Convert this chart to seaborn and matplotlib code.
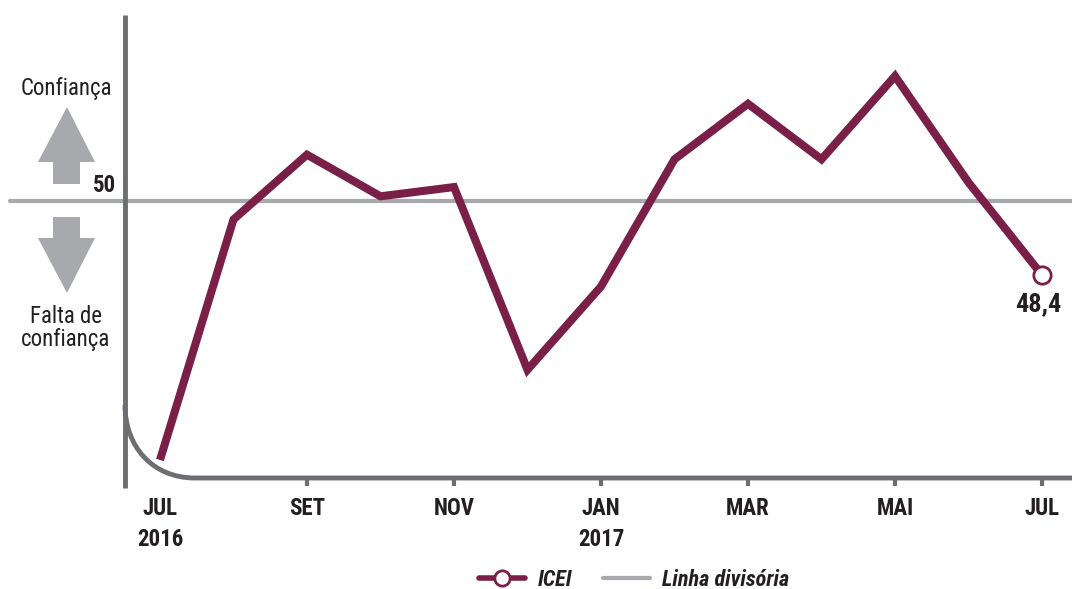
import pandas as pd
import matplotlib.pyplot as plt
import seaborn as sns
from matplotlib import font_manager as fm
from matplotlib.path import Path
from matplotlib.patches import PathPatch, Polygon
from matplotlib.lines import Line2D

# === Dados (ICEI mensal, jul/2016 a jul/2017)
meses = ['JUL', 'AGO', 'SET', 'OUT', 'NOV', 'DEZ', 'JAN', 'FEV', 'MAR', 'ABR', 'MAI', 'JUN', 'JUL']
anos = ['2016', '', '', '', '', '', '2017', '', '', '', '', '', '']
icei = [44.4, 49.6, 51.0, 50.1, 50.3, 46.35, 48.15, 50.9, 52.1, 50.9, 52.7, 50.4, 48.4]
linha_divisoria = 50
rotulo_final = '48,4'

df = pd.DataFrame({'pos': range(len(meses)), 'mes': meses, 'ICEI': icei})

# === Cores
VINHO = '#7a1f48'
CINZA_EIXO = '#6d6e71'
CINZA_LINHA = '#a7a9ac'
TEXTO = '#231f20'

sns.set_theme(style='white')
nomes = {f.name for f in fm.fontManager.ttflist}
if 'Liberation Sans Narrow' in nomes:
    fonte = 'Liberation Sans Narrow'
elif 'Roboto Condensed' in nomes:
    fonte = 'Roboto Condensed'
else:
    fonte = 'Liberation Sans'
plt.rcParams['font.family'] = [fonte, 'DejaVu Sans']

W, H = 1072, 589
fig = plt.figure(figsize=(W / 100, H / 100), dpi=100)


def fig_px(x, y):
    # pixel da imagem -> fração da figura
    return (x / W, 1 - y / H)


def ax_px(x, y):
    # pixel da imagem -> fração do eixo (eixo entre x 125..1072, y 15..478)
    return ((x - 125) / (W - 125), (478 - y) / (478 - 15))


ax = fig.add_axes([125 / W, 1 - 478 / H, (W - 125) / W, (478 - 15) / H])
ax.set_xlim(-0.476, 12.408)
ax.set_ylim(44.01, 54.02)

# === Linha divisória (50)
ax.axhline(linha_divisoria, xmin=-(125 - 10) / (W - 125), xmax=1,
           color=CINZA_LINHA, lw=3, clip_on=False, zorder=1)

# === Série ICEI
sns.lineplot(data=df, x='pos', y='ICEI', color=VINHO, lw=5.8, ax=ax,
             legend=False, zorder=3, solid_joinstyle='miter', solid_capstyle='butt')
ax.plot(df['pos'].iloc[-1], df['ICEI'].iloc[-1], 'o', ms=12.5, mfc='white',
        mec=VINHO, mew=2, zorder=4)
ax.annotate(rotulo_final, xy=(df['pos'].iloc[-1], df['ICEI'].iloc[-1]),
            xytext=(-4, -29), textcoords='offset pixels', ha='center', va='center',
            fontsize=19, fontweight='bold', color=TEXTO)

# === Eixo curvo
ax.add_line(Line2D(*zip(ax_px(125, 15), ax_px(125, 488)), transform=ax.transAxes,
                   color=CINZA_EIXO, lw=3.5, clip_on=False, solid_capstyle='butt'))
verts = [ax_px(125, 405), ax_px(125, 446), ax_px(152, 478), ax_px(195, 478), ax_px(W, 478)]
codes = [Path.MOVETO, Path.CURVE4, Path.CURVE4, Path.CURVE4, Path.LINETO]
ax.add_patch(PathPatch(Path(verts, codes), transform=ax.transAxes, fill=False,
                       edgecolor=CINZA_EIXO, lw=3.5, clip_on=False))

sns.despine(ax=ax, left=True, bottom=True)
ax.set_yticks([])
ax.set_xticks(range(0, len(meses), 2))
ax.set_xticklabels([f'{m}\n{a}' if a else m for m, a in zip(meses[::2], anos[::2])])
ax.tick_params(axis='x', bottom=True, length=6, width=3, color=CINZA_EIXO,
               pad=8, labelsize=16.5, labelcolor=TEXTO)
plt.setp(ax.get_xticklabels(), fontweight='bold', linespacing=1.4)
ax.xaxis.get_major_ticks()[0].tick1line.set_visible(False)
ax.set_xlabel('')
ax.set_ylabel('')

# === Setas e textos à esquerda
seta_cima = [(53, 184), (53, 162), (38, 162), (67, 107), (95, 162), (80, 162), (80, 184)]
seta_baixo = [(53, 217), (80, 217), (80, 238), (95, 238), (67, 293), (38, 238), (53, 238)]
for seta in (seta_cima, seta_baixo):
    fig.patches.append(Polygon([fig_px(x, y) for x, y in seta], closed=True,
                               transform=fig.transFigure, facecolor=CINZA_LINHA,
                               edgecolor='none'))

fig.text(*fig_px(66, 89), 'Confiança', ha='center', va='center', fontsize=16.5, color=TEXTO)
fig.text(*fig_px(66, 328), 'Falta de\nconfiança', ha='center', va='center',
         fontsize=16.5, color=TEXTO, linespacing=1.05)
fig.text(*fig_px(116, 186), '50', ha='right', va='center', fontsize=16.5,
         fontweight='bold', color=TEXTO)

# === Legenda
handles = [Line2D([], [], color=VINHO, lw=4, marker='o', ms=11, mfc='white', mec=VINHO, mew=2),
           Line2D([], [], color=CINZA_LINHA, lw=3)]
fig.legend(handles, ['ICEI', 'Linha divisória'], loc='center',
           bbox_to_anchor=fig_px(634, 580), ncol=2, frameon=False,
           prop=dict(weight='bold', style='italic', size=16),
           handlelength=2.1, handletextpad=0.55, columnspacing=1.4, labelcolor=TEXTO)

fig.savefig('out.png', dpi=100)
